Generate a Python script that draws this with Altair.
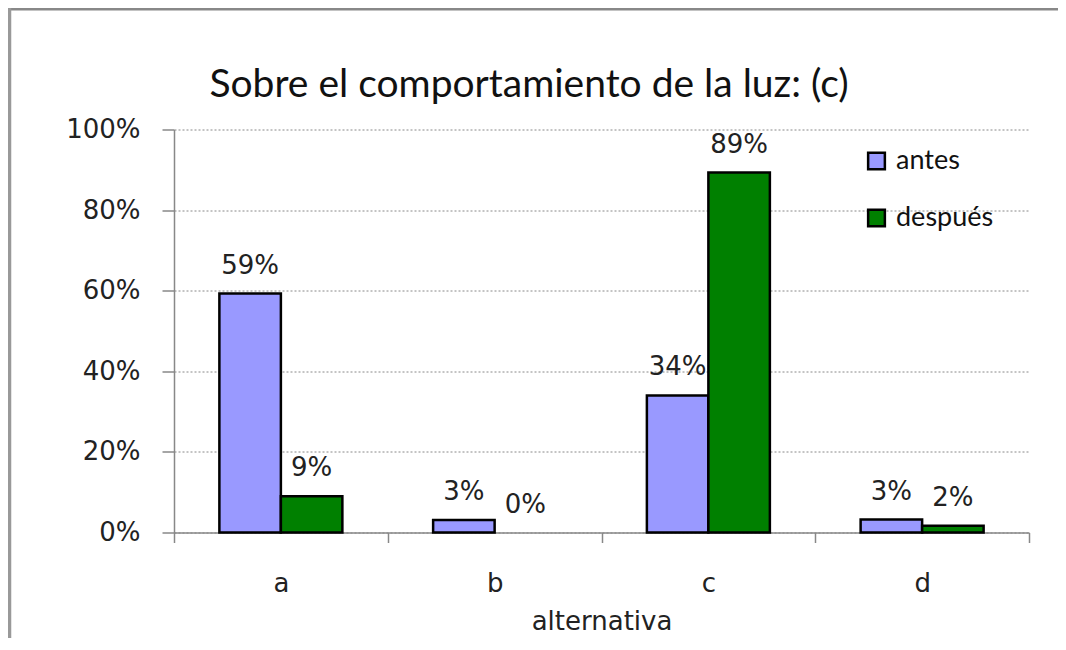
import altair as alt
import pandas as pd

title_text = "Sobre el comportamiento de la luz: (c)"
categories = ["a", "b", "c", "d"]
series_names = ["antes", "después"]
antes = [0.593, 0.031, 0.34, 0.032]
despues = [0.09, 0.0, 0.893, 0.017]
y_ticks = [0, 0.2, 0.4, 0.6, 0.8, 1.0]
colors = ["#9999FF", "#008000"]

rows = []
for c, a, d in zip(categories, antes, despues):
    rows.append({"alternativa": c, "serie": "antes", "valor": a})
    rows.append({"alternativa": c, "serie": "después", "valor": d})
df = pd.DataFrame(rows)

W, H = 855, 403
PL, PT = 166, 121.5

x_enc = alt.X("alternativa:N", sort=categories,
              scale=alt.Scale(paddingInner=0, paddingOuter=0),
              axis=alt.Axis(title="alternativa", labelAngle=0, tickBand="extent",
                            tickSize=10, tickColor="#888888", tickWidth=1.5,
                            domainColor="#888888", domainWidth=1.5,
                            labelFont="DejaVu Sans", labelFontSize=26, labelColor="#222222",
                            labelPadding=28, titleFont="DejaVu Sans", titleFontSize=26,
                            titleFontWeight="normal", titleColor="#222222", titlePadding=12,
                            grid=False))
xoff = alt.XOffset("serie:N", sort=series_names,
                   scale=alt.Scale(paddingInner=0, paddingOuter=0.738))
y_enc = alt.Y("valor:Q", scale=alt.Scale(domain=[0, 1]),
              axis=alt.Axis(title=None, values=y_ticks, format=".0%", tickSize=12,
                            tickColor="#888888", tickWidth=1.5, domainColor="#888888",
                            domainWidth=1.5, labelFont="DejaVu Sans", labelFontSize=26,
                            labelColor="#222222", labelPadding=22, grid=True,
                            gridColor="#888888", gridDash=[2, 2], gridWidth=1))

bars = alt.Chart(df).mark_bar(stroke="black", strokeWidth=2.5).encode(
    x=x_enc, xOffset=xoff, y=y_enc,
    strokeOpacity=alt.condition(alt.datum.valor > 0, alt.value(1), alt.value(0)),
    color=alt.Color("serie:N", sort=series_names,
                    scale=alt.Scale(domain=series_names, range=colors),
                    legend=alt.Legend(title=None, orient="none", legendX=689, legendY=18,
                                      symbolType="square", symbolSize=280,
                                      symbolStrokeColor="black", symbolStrokeWidth=2.5,
                                      labelFont="Lato", labelFontSize=27, labelColor="#111111",
                                      labelOffset=6, rowPadding=29, padding=0)),
)

labels = alt.Chart(df).mark_text(font="DejaVu Sans", fontSize=26, color="#222222",
                                 baseline="alphabetic", dy=-20).encode(
    x=alt.X("alternativa:N", sort=categories), xOffset=xoff, y="valor:Q",
    text=alt.Text("valor:Q", format=".0%"),
)

single = alt.Data(values=[{"t": title_text}])
title_mark = alt.Chart(single).mark_text(font="Lato", fontSize=39, color="#111111",
                                         align="center", baseline="alphabetic").encode(
    x=alt.value(355), y=alt.value(-32.5), text="t:N")

top_line = alt.Chart(single).mark_rule(color="#888888", strokeWidth=2.5).encode(
    x=alt.value(-166), x2=alt.value(900), y=alt.value(-120.2))
left_line = alt.Chart(single).mark_rule(color="#999999", strokeWidth=3.5).encode(
    x=alt.value(-164.5), y=alt.value(-121.5), y2=alt.value(520))

chart = alt.layer(bars, labels, title_mark, top_line, left_line).properties(
    width=W, height=H,
    autosize=alt.AutoSizeParams(type="none"),
    padding={"left": PL, "top": PT, "right": 29, "bottom": 105},
).configure_view(strokeWidth=0)

chart.save("out.html", embed_options={"renderer": "svg", "actions": False})
